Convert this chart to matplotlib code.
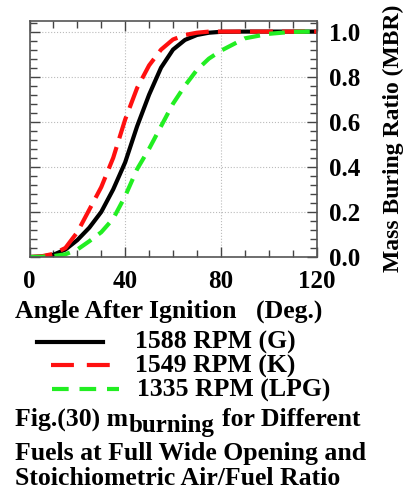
import numpy as np
import matplotlib.pyplot as plt
from matplotlib.ticker import MultipleLocator

plt.rcParams['font.family'] = 'Liberation Serif'
plt.rcParams['font.weight'] = 'bold'

# crank angle after ignition (deg)
angle = [0, 5, 10, 15, 20, 25, 30, 35, 40, 45, 50, 55, 60, 65, 70, 75, 80, 90, 100, 110, 120]

# mass burning ratio
mbr_g = [0.0, 0.002, 0.01, 0.033, 0.075, 0.13, 0.2, 0.3, 0.42, 0.58, 0.72, 0.84, 0.92, 0.963, 0.985, 0.995, 0.999, 1.0, 1.0, 1.0, 1.0]
mbr_k = [0.0, 0.003, 0.014, 0.04, 0.11, 0.21, 0.31, 0.44, 0.61, 0.75, 0.85, 0.92, 0.965, 0.985, 0.995, 1.0, 1.0, 1.0, 1.0, 1.0, 1.0]
mbr_lpg = [0.0, 0.001, 0.004, 0.012, 0.033, 0.07, 0.11, 0.17, 0.27, 0.39, 0.48, 0.58, 0.68, 0.76, 0.83, 0.88, 0.915, 0.97, 0.99, 0.999, 1.0]

labels = ['1588 RPM (G)', '1549 RPM (K)', '1335 RPM (LPG)']
colors = ['black', '#ff1010', '#22ee22']

W, H = 407, 491
fs = 18.5

fig = plt.figure(figsize=(W/100, H/100), dpi=100)
ax = fig.add_axes([29.5/W, 1-257/H, 287/W, 236/H])

l1, = ax.plot(angle, mbr_g, color=colors[0], lw=3, solid_joinstyle='round')
l2, = ax.plot(angle, mbr_k, color=colors[1], lw=3, dashes=(5.5, 2.2))
l3, = ax.plot(angle, mbr_lpg, color=colors[2], lw=3, dashes=(3.8, 2.2))

ax.set_xlim(0, 120)
ax.set_ylim(0, 1.047)
ax.xaxis.set_major_locator(MultipleLocator(40))
ax.xaxis.set_minor_locator(MultipleLocator(10))
ax.yaxis.set_major_locator(MultipleLocator(0.2))
ax.yaxis.set_minor_locator(MultipleLocator(0.04))
ax.yaxis.set_major_formatter(plt.FormatStrFormatter('%.1f'))
ax.tick_params(which='both', direction='in', top=True, right=True,
               labelleft=False, labelright=True, labelsize=18, color='#444444')
ax.tick_params(which='major', length=7, width=1)
ax.tick_params(which='minor', length=5, width=1)
ax.tick_params(axis='y', pad=9)
ax.tick_params(axis='x', pad=9)
ax.grid(True, which='major', color='#bbbbbb', linestyle=':', linewidth=0.8)
for s in ax.spines.values():
    s.set_linewidth(1.2)
    s.set_color('#555555')

fig.text(393/W, 1-138/H, 'Mass Buring Ratio (MBR)', rotation=90, fontsize=17,
         ha='center', va='center')
fig.text(15/W, 1-318/H, 'Angle After Ignition   (Deg.)', fontsize=fs,
         ha='left', va='baseline')

# legend drawn below the axes
leg_y = [342, 365, 389]
leg_x = [(37, 103), (51, 111), (52, 119)]
leg_dash = [None, (5.5, 3.1), (4.0, 2.6)]
txt_y = [349, 373, 397]
txt_x = [135, 135, 137]
for c, (x0, x1), y, d, ty, tx, lab in zip(colors, leg_x, leg_y, leg_dash, txt_y, txt_x, labels):
    line = plt.Line2D([x0/W, x1/W], [1-y/H, 1-y/H], transform=fig.transFigure,
                      color=c, lw=3)
    if d is not None:
        line.set_dashes(d)
    fig.add_artist(line)
    fig.text(tx/W, 1-ty/H, lab, fontsize=fs, ha='left', va='baseline')

# caption, first line with subscript
fig.text(15/W, 1-426/H, 'Fig.(30) m', fontsize=fs, ha='left', va='baseline')
fig.text(129/W, 1-432/H, 'burning', fontsize=18, ha='left', va='baseline')
fig.text(222/W, 1-426/H, 'for Different', fontsize=fs, ha='left', va='baseline')
fig.text(15/W, 1-460/H, 'Fuels at Full Wide Opening and', fontsize=fs,
         ha='left', va='baseline')
fig.text(15/W, 1-485/H, 'Stoichiometric Air/Fuel Ratio', fontsize=fs,
         ha='left', va='baseline')

fig.savefig('out.png', dpi=100)
